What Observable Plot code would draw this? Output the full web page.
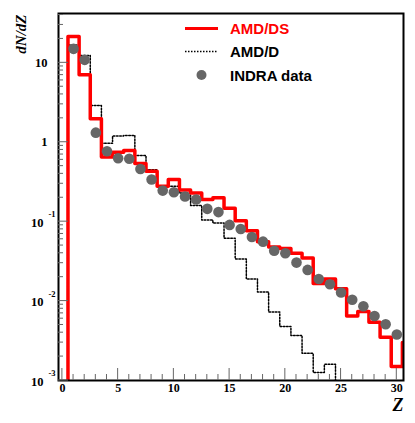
<!DOCTYPE html>
<html>
<head>
<meta charset="utf-8">
<script src="https://cdn.jsdelivr.net/npm/d3@7"></script>
<script src="https://cdn.jsdelivr.net/npm/@observablehq/plot@0.6"></script>
<style>
  html, body { margin: 0; padding: 0; background: #fff; }
  #chart svg { display: block; }
</style>
</head>
<body>
<div id="chart"></div>
<script>
// Charge bins Z
const Z = [0,1,2,3,4,5,6,7,8,9,10,11,12,13,14,15,16,17,18,19,20,21,22,23,24,25,26,27,28,29,30,31];
// AMD/DS histogram (red); 0 = empty bin
const amdDS = [0,21.4,7.1,1.97,0.65,0.75,0.79,0.54,0.43,0.28,0.34,0.25,0.23,0.19,0.20,0.148,0.103,0.077,0.056,0.048,0.046,0.040,0.035,0.0166,0.019,0.0143,0.0065,0.0074,0.0054,0.0035,0.0015,0.0030];
// AMD/D histogram (dotted)
const amdD = [0,16.8,12.4,2.9,0.97,1.2,1.22,0.68,0.45,0.28,0.28,0.23,0.16,0.105,0.096,0.062,0.034,0.019,0.013,0.0073,0.0048,0.0037,0.0022,0.00126,0.0016,0,0,0,0,0,0,0];
// INDRA data points
const indraZ = [1,2,3,4,5,6,7,8,9,10,11,12,13,14,15,16,17,18,19,20,21,22,23,24,25,26,27,28,29,30];
const indra = [15,10.9,1.32,0.77,0.63,0.62,0.46,0.34,0.246,0.235,0.207,0.19,0.145,0.132,0.091,0.081,0.064,0.056,0.043,0.040,0.0305,0.0247,0.019,0.0163,0.0128,0.0104,0.0086,0.0065,0.0051,0.0038];

// Axis ticks
const xMajor = [0,5,10,15,20,25,30];
const xMinor = [1,2,3,4,6,7,8,9,11,12,13,14,16,17,18,19,21,22,23,24,26,27,28,29];
const yMajor = [0.001,0.01,0.1,1,10];
const yMinor = [0.002,0.003,0.004,0.005,0.006,0.007,0.008,0.009,
                0.02,0.03,0.04,0.05,0.06,0.07,0.08,0.09,
                0.2,0.3,0.4,0.5,0.6,0.7,0.8,0.9,
                2,3,4,5,6,7,8,9,20,30,40];
const yPlainTicks = [10, 1];
const yPlainLabels = ["10", "1"];
const yExpTicks = [0.1, 0.01, 0.001];
const yExpBase = ["10", "10", "10"];
const yExpLabels = ["-1", "-2", "-3"];

const FLOOR = 1e-6;
function steps(vals) {
  const pts = vals.map((v, i) => ({x: Z[i] - 0.5, y: v > 0 ? v : FLOOR}));
  const last = vals.length - 1;
  pts.push({x: Z[last] + 0.5, y: vals[last] > 0 ? vals[last] : FLOOR});
  return pts;
}
const redSteps = steps(amdDS);
const dotSteps = steps(amdD);
const points = indraZ.map((z, i) => ({z, v: indra[i]}));

const serif = "Liberation Serif, Times New Roman, serif";
const tickColor = "#666";

const plot = Plot.plot({
  width: 415,
  height: 423,
  marginLeft: 58,
  marginTop: 13,
  marginRight: 12,
  marginBottom: 43,
  x: {domain: [-0.35, 30.6], axis: null},
  y: {type: "log", domain: [0.001, 41.8], axis: null},
  style: {background: "#fff", overflow: "visible"},
  marks: [
    Plot.axisX({ticks: xMajor, tickSize: 0, tickPadding: 3, fontSize: 12, fontWeight: "bold", fontFamily: serif, fill: "#000"}),
    Plot.text(yPlainTicks, {y: d => d, text: (d, i) => yPlainLabels[i], frameAnchor: "left", dx: -11, textAnchor: "end", fontSize: 12.5, fontWeight: "bold", fontFamily: serif, fill: "#000"}),
    Plot.text(yExpTicks, {y: d => d, text: (d, i) => yExpBase[i], frameAnchor: "left", dx: -15, dy: 1, textAnchor: "end", fontSize: 12.5, fontWeight: "bold", fontFamily: serif, fill: "#000"}),
    Plot.text(yExpTicks, {y: d => d, text: (d, i) => yExpLabels[i], frameAnchor: "left", dx: -3, dy: -7, textAnchor: "end", fontSize: 8.5, fontWeight: "bold", fontFamily: serif, fill: "#000"}),
    Plot.line(dotSteps, {x: "x", y: "y", curve: "step-after", stroke: "#000", strokeWidth: 1.5, strokeDasharray: "1.6,1.6", clip: true}),
    Plot.line(redSteps, {x: "x", y: "y", curve: "step-after", stroke: "#ff0000", strokeWidth: 3.5, clip: true}),
    Plot.dot(points, {x: "z", y: "v", r: 5.3, fill: "#666", stroke: "none", clip: true}),
    Plot.frame({stroke: "#000", strokeWidth: 2}),
    Plot.text(["Z"], {frameAnchor: "bottom-right", dy: 30, dx: 0, textAnchor: "end", lineAnchor: "bottom", fontSize: 18, fontWeight: "bold", fontStyle: "italic", fontFamily: serif, fill: "#000"}),
    Plot.text(["dN/dZ"], {frameAnchor: "top-left", dx: -37, dy: 1, rotate: -90, textAnchor: "end", lineAnchor: "middle", fontSize: 15, fontWeight: "bold", fontStyle: "italic", fontFamily: serif, fill: "#000"})
  ]
});

const svg = d3.select(plot);
const sx = plot.scale("x"), sy = plot.scale("y");
const x0 = 58, yB = 423 - 43;

// Inward ticks drawn through the plot's own scales
const ticks = svg.append("g").attr("stroke", tickColor).attr("stroke-width", 1);
for (const v of xMinor) { const px = sx.apply(v); ticks.append("line").attr("x1", px).attr("x2", px).attr("y1", yB).attr("y2", yB - 6); }
for (const v of xMajor) { const px = sx.apply(v); ticks.append("line").attr("x1", px).attr("x2", px).attr("y1", yB).attr("y2", yB - 12); }
for (const v of yMinor) { const py = sy.apply(v); ticks.append("line").attr("x1", x0).attr("x2", x0 + 5).attr("y1", py).attr("y2", py); }
for (const v of yMajor) { const py = sy.apply(v); ticks.append("line").attr("x1", x0).attr("x2", x0 + 10).attr("y1", py).attr("y2", py); }

// Legend
const leg = svg.append("g").attr("font-family", "Liberation Sans, Arial, sans-serif").attr("font-weight", "bold").attr("font-size", 15).attr("text-anchor", "start");
const entries = [
  {label: "AMD/DS", color: "#ff0000", kind: "red", y: 28.5},
  {label: "AMD/D", color: "#000", kind: "dot", y: 51.5},
  {label: "INDRA data", color: "#000", kind: "pt", y: 75}
];
for (const e of entries) {
  if (e.kind === "red") {
    leg.append("line").attr("x1", 185).attr("x2", 218).attr("y1", e.y).attr("y2", e.y).attr("stroke", "#ff0000").attr("stroke-width", 3);
  } else if (e.kind === "dot") {
    leg.append("line").attr("x1", 185).attr("x2", 218).attr("y1", e.y).attr("y2", e.y).attr("stroke", "#000").attr("stroke-width", 1.3).attr("stroke-dasharray", "1.5,1.5");
  } else {
    leg.append("circle").attr("cx", 201.5).attr("cy", e.y).attr("r", 5).attr("fill", "#666");
  }
  leg.append("text").attr("x", 230).attr("y", e.y + 5.5).attr("fill", e.color).text(e.label);
}

document.getElementById("chart").appendChild(plot);
</script>
</body>
</html>
